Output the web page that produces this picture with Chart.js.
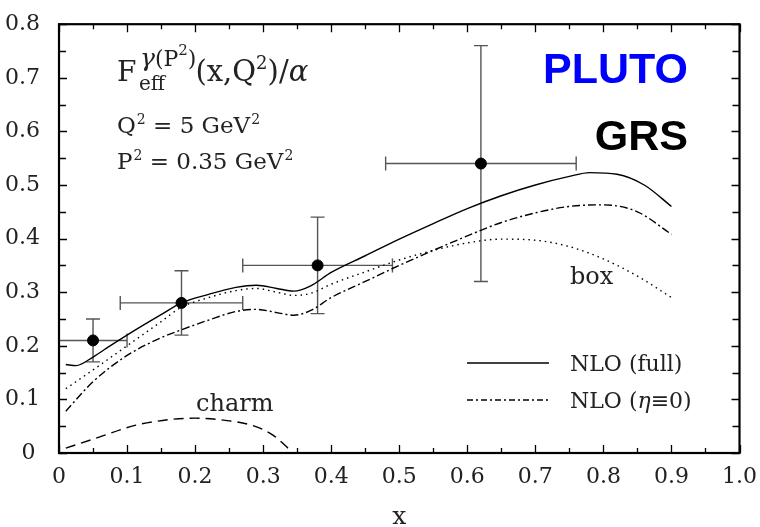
<!DOCTYPE html>
<html>
<head>
<meta charset="utf-8">
<title>PLUTO vs GRS - F_eff</title>
<script src="https://cdn.jsdelivr.net/npm/chart.js@4.4.0/dist/chart.umd.min.js"></script>
<style>
    html, body { margin: 0; padding: 0; background: #ffffff; }
    #wrap { width: 760px; height: 527px; }
</style>
</head>
<body>
<div id="wrap"><canvas id="feffChart" width="760" height="527"></canvas></div>
<script>
// ===================================
// DATA
// ===================================

// NLO (full) - solid curve
const FULL_X = [0.01, 0.025, 0.05, 0.075, 0.1, 0.15, 0.18, 0.22, 0.26, 0.29, 0.32, 0.345, 0.37, 0.4, 0.45, 0.5, 0.55, 0.6, 0.65, 0.7, 0.75, 0.78, 0.82, 0.86, 0.9];
const FULL_Y = [0.165, 0.163, 0.179, 0.2, 0.22, 0.258, 0.28, 0.296, 0.309, 0.313, 0.307, 0.302, 0.312, 0.337, 0.368, 0.399, 0.428, 0.456, 0.48, 0.5, 0.516, 0.523, 0.52, 0.5, 0.46];

// box contribution - dotted curve
const BOX_X = [0.01, 0.05, 0.1, 0.15, 0.18, 0.22, 0.26, 0.29, 0.32, 0.345, 0.37, 0.4, 0.45, 0.5, 0.55, 0.6, 0.65, 0.7, 0.75, 0.8, 0.85, 0.9];
const BOX_Y = [0.12, 0.155, 0.2, 0.245, 0.272, 0.29, 0.303, 0.307, 0.3, 0.294, 0.298, 0.315, 0.338, 0.36, 0.378, 0.392, 0.399, 0.397, 0.385, 0.362, 0.33, 0.29];

// NLO (eta = 0) - dash-dot curve
const ETA0_X = [0.01, 0.05, 0.1, 0.15, 0.18, 0.22, 0.26, 0.29, 0.32, 0.345, 0.37, 0.4, 0.45, 0.5, 0.55, 0.6, 0.65, 0.7, 0.75, 0.8, 0.85, 0.9];
const ETA0_Y = [0.078, 0.133, 0.182, 0.215, 0.23, 0.248, 0.264, 0.268, 0.262, 0.257, 0.266, 0.29, 0.32, 0.35, 0.378, 0.405, 0.43, 0.448, 0.46, 0.463, 0.45, 0.408];

// charm contribution - dashed curve
const CHARM_X = [0.01, 0.06, 0.11, 0.16, 0.2, 0.25, 0.285, 0.315, 0.34];
const CHARM_Y = [0.009, 0.03, 0.051, 0.062, 0.065, 0.06, 0.051, 0.033, 0.005];

// PLUTO data points with x-bins and errors
const PLUTO_X   = [0.05, 0.18, 0.38, 0.62];
const PLUTO_Y   = [0.21, 0.28, 0.35, 0.54];
const PLUTO_XLO = [0.0, 0.09, 0.27, 0.48];
const PLUTO_XHI = [0.10, 0.27, 0.49, 0.76];
const PLUTO_YLO = [0.17, 0.22, 0.26, 0.32];
const PLUTO_YHI = [0.25, 0.34, 0.44, 0.76];

// tick labels
const X_TICK_LABELS = ['0', '0.1', '0.2', '0.3', '0.4', '0.5', '0.6', '0.7', '0.8', '0.9', '1.0'];
const Y_TICK_LABELS = ['0', '0.1', '0.2', '0.3', '0.4', '0.5', '0.6', '0.7', '0.8'];

const SERIF = "'DejaVu Serif', 'Liberation Serif', serif";

function toPoints(xs, ys) {
    return xs.map(function (x, i) { return { x: x, y: ys[i] }; });
}

// ===================================
// Plugin: frame with inward ticks on all four sides
// ===================================
const framePlugin = {
    id: 'frame',
    afterDraw: function (chart) {
        const ctx = chart.ctx;
        const a = chart.chartArea;
        const xs = chart.scales.x;
        const ys = chart.scales.y;
        ctx.save();
        ctx.strokeStyle = '#000';
        ctx.lineWidth = 1.3;
        // x ticks (major 0.1, minor 0.05)
        for (let i = 0; i <= 20; i++) {
            const px = Math.round(xs.getPixelForValue(i * 0.05)) + 0.5;
            const len = (i % 2 === 0) ? 8 : 5;
            ctx.beginPath();
            ctx.moveTo(px, a.bottom); ctx.lineTo(px, a.bottom - len);
            ctx.moveTo(px, a.top); ctx.lineTo(px, a.top + len);
            ctx.stroke();
        }
        // y ticks (major 0.1, minor 0.05)
        for (let i = 0; i <= 16; i++) {
            const py = Math.round(ys.getPixelForValue(i * 0.05)) + 0.5;
            const len = (i % 2 === 0) ? 8 : 7;
            ctx.beginPath();
            ctx.moveTo(a.left, py); ctx.lineTo(a.left + len, py);
            ctx.moveTo(a.right, py); ctx.lineTo(a.right - len, py);
            ctx.stroke();
        }
        // box
        ctx.lineWidth = 2.2;
        ctx.strokeRect(a.left, a.top, a.right - a.left, a.bottom - a.top);
        ctx.restore();
    }
};

// ===================================
// Plugin: error bars for the PLUTO points
// ===================================
const errorBarPlugin = {
    id: 'errorBars',
    beforeDatasetsDraw: function (chart) {
        const ctx = chart.ctx;
        const xs = chart.scales.x;
        const ys = chart.scales.y;
        const cap = 7;
        ctx.save();
        ctx.strokeStyle = '#555';
        ctx.lineWidth = 1.4;
        for (let i = 0; i < PLUTO_X.length; i++) {
            const cx = xs.getPixelForValue(PLUTO_X[i]);
            const cy = ys.getPixelForValue(PLUTO_Y[i]);
            const x1 = xs.getPixelForValue(PLUTO_XLO[i]);
            const x2 = xs.getPixelForValue(PLUTO_XHI[i]);
            const y1 = ys.getPixelForValue(PLUTO_YLO[i]);
            const y2 = ys.getPixelForValue(PLUTO_YHI[i]);
            ctx.beginPath();
            // vertical
            ctx.moveTo(cx, y1); ctx.lineTo(cx, y2);
            ctx.moveTo(cx - cap, y1); ctx.lineTo(cx + cap, y1);
            ctx.moveTo(cx - cap, y2); ctx.lineTo(cx + cap, y2);
            // horizontal
            ctx.moveTo(x1, cy); ctx.lineTo(x2, cy);
            ctx.moveTo(x1, cy - cap); ctx.lineTo(x1, cy + cap);
            ctx.moveTo(x2, cy - cap); ctx.lineTo(x2, cy + cap);
            ctx.stroke();
        }
        ctx.restore();
    }
};

// draw a run of text pieces: [text, fontSize, dy, italic]
function drawRun(ctx, x, baseline, pieces) {
    pieces.forEach(function (p) {
        ctx.font = (p[3] ? 'italic ' : '') + p[1] + 'px ' + SERIF;
        ctx.fillText(p[0], x, baseline + p[2]);
        x += ctx.measureText(p[0]).width;
    });
    return x;
}

// ===================================
// Plugin: annotations, legend and labels
// ===================================
const annotationPlugin = {
    id: 'annotations',
    afterDraw: function (chart) {
        const ctx = chart.ctx;
        ctx.save();
        ctx.fillStyle = '#222';
        ctx.textAlign = 'left';
        ctx.textBaseline = 'alphabetic';

        // formula F_eff^{gamma(P^2)}(x,Q^2)/alpha
        drawRun(ctx, 117, 81, [['F', 28, 0, false]]);
        drawRun(ctx, 139, 90, [['eff', 20, 0, false]]);
        let x = drawRun(ctx, 140, 66, [['\u03B3', 25, 0, true], ['(P', 22, 0, false]]);
        x = drawRun(ctx, x, 55, [['2', 15, 0, false]]);
        x = drawRun(ctx, x, 66, [[')', 22, 0, false]]);
        x = drawRun(ctx, x - 1, 81, [['(x,Q', 29, 0, false]]);
        x = drawRun(ctx, x, 69, [['2', 18, 0, false]]);
        drawRun(ctx, x, 81, [[')/', 29, 0, false], ['\u03B1', 29, 0, true]]);

        // Q^2 and P^2
        x = drawRun(ctx, 117, 133, [['Q', 23, 0, false]]);
        x = drawRun(ctx, x + 1, 124, [['2', 14, 0, false]]);
        x = drawRun(ctx, x, 133, [[' = 5 GeV', 23, 0, false]]);
        drawRun(ctx, x + 1, 124, [['2', 14, 0, false]]);
        x = drawRun(ctx, 117, 169, [['P', 23, 0, false]]);
        x = drawRun(ctx, x + 1, 160, [['2', 14, 0, false]]);
        x = drawRun(ctx, x, 169, [[' = 0.35 GeV', 23, 0, false]]);
        drawRun(ctx, x + 1, 160, [['2', 14, 0, false]]);

        // experiment / parametrisation labels
        ctx.textAlign = 'right';
        ctx.font = "bold 43px 'Liberation Sans', Arial, sans-serif";
        ctx.fillStyle = '#0000ff';
        ctx.fillText('PLUTO', 688, 83);
        ctx.fillStyle = '#000';
        ctx.fillText('GRS', 688, 150);

        // curve labels
        ctx.textAlign = 'left';
        ctx.fillStyle = '#222';
        ctx.font = '24px ' + SERIF;
        ctx.fillText('box', 570, 284);
        ctx.fillText('charm', 196, 411);

        // legend
        ctx.strokeStyle = '#000';
        ctx.lineWidth = 1.3;
        ctx.beginPath();
        ctx.moveTo(467, 363); ctx.lineTo(549, 363);
        ctx.stroke();
        ctx.setLineDash([6, 3, 2, 3]);
        ctx.beginPath();
        ctx.moveTo(467, 400); ctx.lineTo(549, 400);
        ctx.stroke();
        ctx.setLineDash([]);
        ctx.font = '22px ' + SERIF;
        ctx.fillText('NLO (full)', 570, 371);
        drawRun(ctx, 570, 408, [['NLO (', 22, 0, false], ['\u03B7', 22, 0, true], ['\u22610)', 22, 0, false]]);
        ctx.restore();
    }
};

// ===================================
// Build chart
// ===================================
function curve(xs, ys, dash) {
    return {
        type: 'line',
        data: toPoints(xs, ys),
        borderColor: '#000',
        borderWidth: 1.4,
        borderDash: dash,
        pointRadius: 0,
        fill: false,
        cubicInterpolationMode: 'monotone'
    };
}

function initFeffChart() {
    const ctx = document.getElementById('feffChart').getContext('2d');

    new Chart(ctx, {
        type: 'scatter',
        data: {
            datasets: [
                curve(FULL_X, FULL_Y, []),
                curve(BOX_X, BOX_Y, [1.5, 4]),
                curve(ETA0_X, ETA0_Y, [8, 3, 2, 3]),
                curve(CHARM_X, CHARM_Y, [10, 6]),
                {
                    type: 'scatter',
                    data: toPoints(PLUTO_X, PLUTO_Y),
                    backgroundColor: '#000',
                    borderColor: '#000',
                    pointRadius: 5.5,
                    pointHoverRadius: 5.5
                }
            ]
        },
        options: {
            responsive: false,
            animation: false,
            layout: { padding: { top: 14, right: 20, left: 0, bottom: 0 } },
            plugins: {
                legend: { display: false },
                tooltip: { enabled: false },
                title: { display: false }
            },
            scales: {
                x: {
                    type: 'linear',
                    min: 0,
                    max: 1,
                    grid: { display: false },
                    border: { display: false },
                    ticks: {
                        stepSize: 0.1,
                        padding: 3,
                        color: '#222',
                        font: { family: SERIF, size: 22 },
                        callback: function (v, i) { return X_TICK_LABELS[i]; }
                    },
                    title: {
                        display: true,
                        text: 'x',
                        color: '#222',
                        font: { family: SERIF, size: 25, lineHeight: 0.8 },
                        padding: { top: 0, bottom: 0 }
                    },
                    afterFit: function (scale) { scale.height = 74; }
                },
                y: {
                    type: 'linear',
                    min: 0,
                    max: 0.8,
                    grid: { display: false },
                    border: { display: false },
                    ticks: {
                        stepSize: 0.1,
                        padding: 11,
                        color: '#222',
                        font: { family: SERIF, size: 22 },
                        // the zero label sits a little left of the others
                        callback: function (v, i) {
                            return i === 0 ? Y_TICK_LABELS[i] + '\u2009' : Y_TICK_LABELS[i];
                        }
                    },
                    afterFit: function (scale) { scale.width = 59; }
                }
            }
        },
        plugins: [errorBarPlugin, framePlugin, annotationPlugin]
    });
}

initFeffChart();
</script>
</body>
</html>
